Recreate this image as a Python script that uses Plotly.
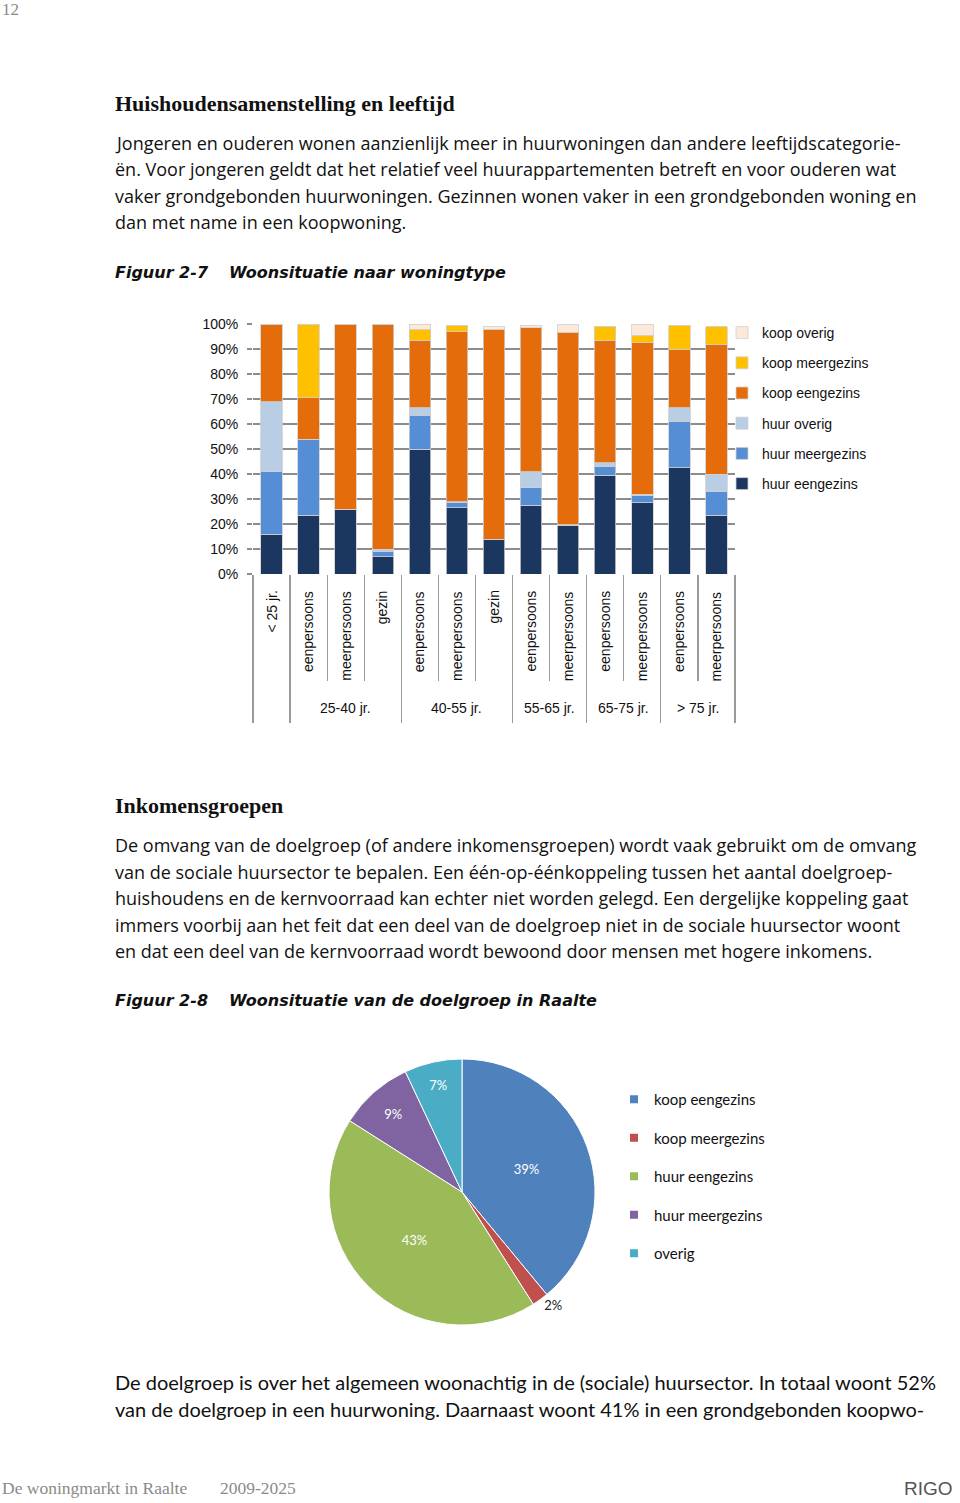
import plotly.graph_objects as go

W, H = 960, 1503

# --- bar chart data (Figuur 2-7) ---
groups = ["", "25-40 jr.", "25-40 jr.", "25-40 jr.", "40-55 jr.", "40-55 jr.", "40-55 jr.",
          "55-65 jr.", "55-65 jr.", "65-75 jr.", "65-75 jr.", "> 75 jr.", "> 75 jr."]
subs = ["< 25 jr.", "eenpersoons", "meerpersoons", "gezin", "eenpersoons", "meerpersoons", "gezin",
        "eenpersoons", "meerpersoons", "eenpersoons", "meerpersoons", "eenpersoons", "meerpersoons"]

huur_eengezins = [16, 23.5, 26, 7, 50, 26.5, 14, 27.5, 19.5, 39.5, 28.5, 42.5, 23.5]
huur_meergezins = [25, 30.5, 0, 2, 13.5, 2, 0, 7, 0, 3.5, 3, 18.5, 9.5]
huur_overig = [28, 0, 0, 1, 3, 0.5, 0, 6.5, 0.3, 1.5, 0.5, 5.5, 7]
koop_eengezins = [31, 16.5, 74, 90, 27, 68, 84, 57.5, 77, 49, 60.5, 23.5, 52]
koop_meergezins = [0, 29.5, 0, 0, 4.5, 2.5, 0, 0, 0, 5.5, 3, 9.5, 7]
koop_overig = [0, 0, 0, 0, 2, 0, 1, 1, 3, 0, 4.5, 0, 0]

bar_series = [
    ("huur eengezins", huur_eengezins, "#1b365f"),
    ("huur meergezins", huur_meergezins, "#558ed5"),
    ("huur overig", huur_overig, "#b9cde5"),
    ("koop eengezins", koop_eengezins, "#e46c0a"),
    ("koop meergezins", koop_meergezins, "#ffc000"),
    ("koop overig", koop_overig, "#fde9d9"),
]

# --- pie data (Figuur 2-8) ---
pie_labels = ["koop eengezins", "koop meergezins", "huur eengezins", "huur meergezins", "overig"]
pie_values = [39, 2, 43, 9, 7]
pie_colors = ["#4f81bd", "#c0504d", "#9bbb59", "#8064a2", "#4bacc6"]

# --- page text ---
heading1 = "Huishoudensamenstelling en leeftijd"
para1 = [
    "Jongeren en ouderen wonen aanzienlijk meer in huurwoningen dan andere leeftijdscategorie-",
    "ën. Voor jongeren geldt dat het relatief veel huurappartementen betreft en voor ouderen wat",
    "vaker grondgebonden huurwoningen. Gezinnen wonen vaker in een grondgebonden woning en",
    "dan met name in een koopwoning.",
]
caption1 = ("Figuur 2-7", "Woonsituatie naar woningtype")
heading2 = "Inkomensgroepen"
para2 = [
    "De omvang van de doelgroep (of andere inkomensgroepen) wordt vaak gebruikt om de omvang",
    "van de sociale huursector te bepalen. Een één-op-éénkoppeling tussen het aantal doelgroep-",
    "huishoudens en de kernvoorraad kan echter niet worden gelegd. Een dergelijke koppeling gaat",
    "immers voorbij aan het feit dat een deel van de doelgroep niet in de sociale huursector woont",
    "en dat een deel van de kernvoorraad wordt bewoond door mensen met hogere inkomens.",
]
caption2 = ("Figuur 2-8", "Woonsituatie van de doelgroep in Raalte")
para3 = [
    "De doelgroep is over het algemeen woonachtig in de (sociale) huursector. In totaal woont 52%",
    "van de doelgroep in een huurwoning. Daarnaast woont 41% in een grondgebonden koopwo-",
]

NARROW = "Liberation Sans Narrow, Arial Narrow, Liberation Sans, Arial"
BODY = "Open Sans, Noto Sans, sans-serif"
CAPTION = "DejaVu Sans, Open Sans, sans-serif"
SERIF = "Liberation Serif, DejaVu Serif, serif"
CALIB = "Lato, Open Sans, sans-serif"
GRID = "#8c8c8c"
SEP = "#9a9a9a"


def py(v):
    return 1 - v / H


n = len(subs)
pos = list(range(n))  # slot of each category on the x axis
# category boundaries: every bar (short lines) and every age group (long lines)
all_bounds = [i - 0.5 for i in range(n + 1)]
group_bounds = [i - 0.5 for i in range(n + 1) if i == 0 or i == n or groups[i] != groups[i - 1]]

fig = go.Figure()

n_series = len(bar_series)
for i, (name, vals, col) in enumerate(bar_series):
    fig.add_trace(go.Bar(
        x=pos,
        y=vals,
        name=name,
        legendgroup=name,
        legendrank=100 + (n_series - i),
        marker=dict(color=col, line=dict(color="#d0d0d0", width=0.8)),
        width=0.58,
    ))

fig.add_trace(go.Pie(
    labels=pie_labels,
    values=pie_values,
    sort=False,
    direction="clockwise",
    rotation=0,
    marker=dict(colors=pie_colors, line=dict(color="white", width=1)),
    texttemplate="%{percent:.0%}",
    textposition=["inside", "outside", "inside", "inside", "inside"],
    insidetextorientation="horizontal",
    insidetextfont=dict(color="white", size=13, family=CALIB),
    outsidetextfont=dict(color="#222", size=13, family=CALIB),
    domain=dict(x=[329 / W, 595 / W], y=[py(1325), py(1059)]),
    showlegend=False,
))

# legend-only entries for the pie (gives control over the row spacing)
for lab, col in zip(pie_labels, pie_colors):
    fig.add_trace(go.Scatter(
        x=[None], y=[None],
        mode="markers",
        marker=dict(symbol="square", size=8, color=col),
        name=lab, legend="legend2", legendgroup="p_" + lab,
        showlegend=True,
    ))

fig.update_layout(
    width=W, height=H,
    margin=dict(l=0, r=0, t=0, b=0, autoexpand=False),
    paper_bgcolor="white", plot_bgcolor="white",
    barmode="stack",
    hovermode=False,
    dragmode=False,
    font=dict(family=NARROW, size=14, color="#111"),
    xaxis=dict(
        domain=[253 / W, 735 / W],
        range=[-0.5, n - 0.5],
        tickvals=group_bounds,
        ticks="outside",
        ticklen=148,
        tickcolor=SEP,
        tickwidth=1.2,
        minor=dict(tickvals=all_bounds, ticks="outside", ticklen=106,
                   tickcolor=SEP, tickwidth=1.2, showgrid=False),
        showticklabels=False,
        showgrid=False,
        zeroline=False,
    ),
    yaxis=dict(
        domain=[py(574), py(324)],
        range=[0, 100],
        dtick=10,
        ticksuffix="%",
        showgrid=True,
        gridcolor=GRID,
        gridwidth=1.5,
        ticks="outside",
        ticklen=5,
        tickcolor=GRID,
        tickwidth=1.5,
        zeroline=False,
        ticklabelstandoff=6,
        tickfont=dict(family=NARROW, size=14, color="#111"),
    ),
    legend=dict(
        x=722 / W, y=py(317), xanchor="left", yanchor="top",
        traceorder="grouped",
        tracegroupgap=9,
        bgcolor="rgba(0,0,0,0)",
        font=dict(family=NARROW, size=14, color="#111"),
        itemclick=False,
    ),
    legend2=dict(
        x=614 / W, y=py(1083), xanchor="left", yanchor="top",
        traceorder="grouped",
        tracegroupgap=16,
        bgcolor="rgba(0,0,0,0)",
        font=dict(family=CALIB, size=15, color="#111"),
        itemclick=False,
    ),
)

annotations = []

# category labels of the bar chart, placed on the bar slots
for i, lab in zip(pos, subs):
    annotations.append(dict(
        text=lab, x=i, y=py(589), xref="x", yref="paper",
        xanchor="center", yanchor="top", textangle=-90, showarrow=False,
        font=dict(size=14, family=NARROW, color="#111"),
    ))
seen = []
for g in groups:
    if g and g not in seen:
        seen.append(g)
for g in seen:
    idx = [p for p, gg in zip(pos, groups) if gg == g]
    annotations.append(dict(
        text=g, x=sum(idx) / len(idx), y=py(708), xref="x", yref="paper",
        xanchor="center", yanchor="middle", showarrow=False,
        font=dict(size=14, family=NARROW, color="#111"),
    ))


def add_text(text, x, y, size, family, color="#111", bold=False, italic=False):
    if bold:
        text = f"<b>{text}</b>"
    if italic:
        text = f"<i>{text}</i>"
    annotations.append(dict(
        text=text, x=x / W, y=py(y), xref="paper", yref="paper",
        xanchor="left", yanchor="middle", showarrow=False,
        font=dict(size=size, family=family, color=color),
    ))


add_text("12", 0, 10, 17, SERIF, color="#8a8a8a")
add_text(heading1, 113, 103, 22, SERIF, bold=True)
for k, line in enumerate(para1):
    add_text(line, 113, 143 + k * 26.4, 18, BODY)
add_text(caption1[0], 113, 272, 16, CAPTION, bold=True, italic=True)
add_text(caption1[1], 227, 272, 16, CAPTION, bold=True, italic=True)

add_text(heading2, 113, 806, 22, SERIF, bold=True)
for k, line in enumerate(para2):
    add_text(line, 113, 845 + k * 26.5, 18, BODY)
add_text(caption2[0], 113, 1001, 16, CAPTION, bold=True, italic=True)
add_text(caption2[1], 227, 1001, 16, CAPTION, bold=True, italic=True)

for k, line in enumerate(para3):
    add_text(line, 113, 1382 + k * 26.5, 20, CALIB)

add_text("De woningmarkt in Raalte", 0, 1488, 17.5, SERIF, color="#8a8a8a")
add_text("2009-2025", 218, 1488, 17.5, SERIF, color="#8a8a8a")
add_text("RIGO", 902, 1488, 19, NARROW, color="#555")

fig.update_layout(annotations=annotations)

fig.write_html("out.html", config={"displayModeBar": False, "staticPlot": True},
               post_script="document.body.style.margin='0px';")
